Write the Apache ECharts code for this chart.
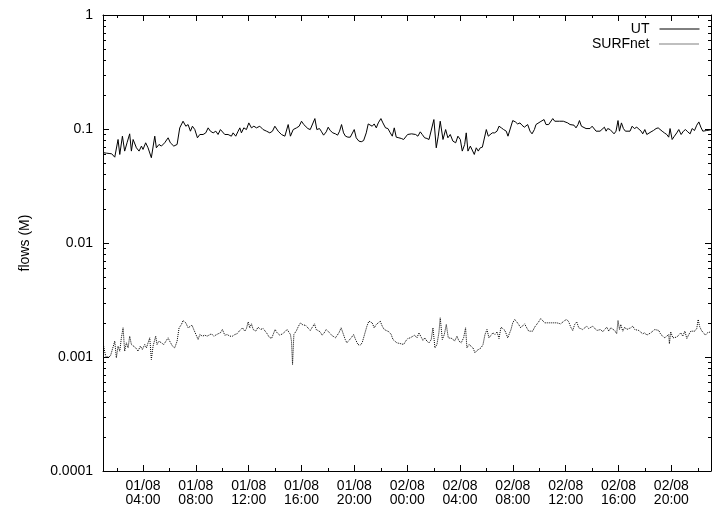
<!DOCTYPE html>
<html><head><meta charset="utf-8">
<script src="https://cdn.jsdelivr.net/npm/echarts@6/dist/echarts.min.js"></script>
<style>html,body{margin:0;padding:0;background:#fff}#c{width:712px;height:507px}</style>
</head><body><div id="c"></div>
<script>
// hours since 01/08 00:00
const utHours = [1.02,1.23,1.43,1.63,1.86,2.11,2.24,2.44,2.61,2.79,2.99,3.12,3.25,3.50,3.70,3.88,4.00,4.20,4.38,4.51,4.63,4.89,5.01,5.21,5.39,5.64,5.90,6.07,6.33,6.58,6.78,7.03,7.24,7.41,7.59,7.74,7.92,8.12,8.30,8.55,8.75,8.93,9.10,9.31,9.51,9.68,9.86,10.01,10.19,10.44,10.69,10.82,11.02,11.20,11.33,11.45,11.63,11.83,12.01,12.21,12.39,12.59,12.84,13.09,13.35,13.60,13.80,13.98,14.23,14.48,14.74,14.86,14.99,15.16,15.37,15.62,15.82,16.00,16.17,
16.30,16.48,16.66,16.81,17.01,17.16,17.36,17.49,17.67,17.87,18.02,18.17,18.37,18.57,18.73,18.88,19.03,19.18,19.33,19.51,19.69,19.84,19.99,20.14,20.34,20.52,20.70,20.90,21.05,21.20,21.35,21.50,21.66,21.81,22.01,22.16,22.36,22.54,22.72,22.87,23.02,23.17,23.37,23.55,23.73,23.88,24.03,24.18,24.33,24.48,24.64,24.81,24.99,25.14,25.32,25.49,25.65,25.80,26.02,26.20,26.35,26.50,26.71,26.91,27.08,27.26,27.46,27.67,27.84,28.02,28.17,28.35,28.47,28.60,28.78,28.93,29.08,29.23,29.38,29.53,29.69,29.84,29.99,30.14,30.29,30.44,30.62,30.80,30.95,31.13,31.30,31.50,
31.63,31.78,31.99,32.19,32.36,32.54,32.69,32.87,33.00,33.12,33.30,33.45,33.63,33.75,33.90,34.06,34.21,34.36,34.51,34.71,34.86,35.02,35.17,35.32,35.52,35.67,35.82,35.97,36.15,36.33,36.48,36.63,36.78,36.93,37.04,37.19,37.34,37.54,37.69,37.84,38.00,38.10,38.30,38.45,38.60,38.75,38.93,39.06,39.18,39.36,39.51,39.66,39.81,39.96,40.07,40.22,40.37,40.52,40.67,40.87,41.03,41.20,41.38,41.53,41.71,41.83,41.99,42.14,42.29,42.46,42.64,42.84,43.00,43.15,43.30,43.47,43.65,43.80,43.90,44.06,44.23,44.41,44.56,44.74,44.91,45.07,45.24,45.42,45.57,45.75,45.92,46.08,46.23,46.38,46.53,46.68,46.83,46.99];
const utFlows = [0.0619,0.0614,0.0610,0.0606,0.0566,0.0809,0.0598,0.0865,0.0640,0.0757,0.0907,0.0640,0.0809,0.0684,0.0640,0.0708,0.0662,0.0757,0.0684,0.0708,0.0560,0.0865,0.0684,0.0732,0.0708,0.0757,0.0837,0.0757,0.0708,0.0732,0.1023,0.117,0.1058,0.1094,0.0957,0.1058,0.0989,0.0837,0.0895,0.0895,0.0925,0.1023,0.0957,0.0925,0.0957,0.0895,0.0989,0.1023,0.0895,0.0895,0.0865,0.0925,0.0865,0.0957,0.1023,0.0925,0.1023,0.0989,0.1131,0.1023,0.1058,0.1023,0.1058,0.0989,0.0957,0.0925,0.0957,0.1058,0.0957,0.0895,0.0865,0.0895,0.1094,0.0865,0.0989,0.1023,0.1058,0.117,0.1094,
0.1058,0.1009,0.0989,0.0970,0.1234,0.0989,0.1009,0.0957,0.0883,0.0944,0.1037,0.0970,0.0925,0.0907,0.0883,0.0957,0.1094,0.0925,0.0865,0.0848,0.0848,0.0848,0.0989,0.0837,0.0783,0.0773,0.0791,0.0925,0.1108,0.1094,0.1058,0.1108,0.1023,0.1131,0.1234,0.1131,0.1023,0.1009,0.0925,0.0865,0.1023,0.0848,0.0837,0.0826,0.0809,0.0791,0.0895,0.0865,0.0907,0.0925,0.0895,0.0865,0.0944,0.0895,0.0837,0.0826,0.0809,0.0783,0.121,0.0684,0.0865,0.117,0.0809,0.0989,0.0837,0.0895,0.0783,0.0757,0.0865,0.0809,0.0640,0.0732,0.0925,0.0640,0.0708,0.0732,0.0598,0.0684,0.0640,0.0684,0.0693,0.0708,0.0989,0.0865,0.0895,0.0925,0.0925,0.0957,0.1058,0.1023,0.0989,0.0957,
0.0865,0.0895,0.1186,0.1154,0.1108,0.1131,0.1080,0.1037,0.1058,0.1094,0.0957,0.0907,0.0989,0.1094,0.1058,0.1154,0.1186,0.121,0.1094,0.1094,0.1108,0.1234,0.117,0.1186,0.117,0.1131,0.117,0.1186,0.1131,0.1094,0.1058,0.1080,0.1023,0.1094,0.1186,0.1058,0.1023,0.1009,0.1037,0.1009,0.1058,0.1094,0.0957,0.0989,0.0957,0.0970,0.1037,0.0957,0.1009,0.0989,0.0957,0.0907,0.0957,0.1186,0.0957,0.1131,0.1009,0.0957,0.0944,0.0957,0.1058,0.1009,0.1037,0.1009,0.0957,0.0907,0.0989,0.0895,0.0925,0.0944,0.0970,0.1009,0.1023,0.0989,0.0957,0.0925,0.0895,0.0848,0.1009,0.0809,0.0865,0.0925,0.0989,0.0895,0.0957,0.0989,0.0944,0.0907,0.1009,0.0970,0.1080,0.1154,0.1037,0.0957,0.0944,0.0970,0.1009,0.0983];

const surfHours = [1.02,1.17,1.35,1.53,1.68,1.86,1.98,2.11,2.24,2.36,2.49,2.61,2.74,2.87,2.99,3.12,3.25,3.45,3.62,3.80,3.95,4.13,4.26,4.38,4.51,4.63,4.76,4.96,5.06,5.21,5.39,5.57,5.72,5.90,6.02,6.23,6.40,6.58,6.73,6.91,7.03,7.24,7.41,7.54,7.71,7.84,7.99,8.17,8.30,8.50,8.67,8.85,9.00,9.18,9.36,9.51,9.68,9.86,10.01,10.19,10.37,10.57,10.77,10.95,11.12,11.28,11.38,11.53,11.70,11.83,11.96,12.08,12.21,12.34,12.54,12.71,12.89,13.09,13.25,13.40,13.55,13.73,13.85,14.00,14.15,14.36,14.56,14.74,14.91,15.06,15.16,15.24,15.32,15.42,15.62,15.77,15.92,16.12,
16.30,16.48,16.66,16.81,16.98,17.11,17.24,17.41,17.56,17.72,17.87,17.99,18.12,18.27,18.42,18.57,18.68,18.83,19.00,19.13,19.31,19.43,19.58,19.76,19.94,20.09,20.27,20.44,20.59,20.77,20.95,21.10,21.25,21.35,21.50,21.66,21.81,21.96,22.11,22.26,22.41,22.62,22.79,22.92,23.04,23.22,23.37,23.55,23.73,23.88,24.05,24.23,24.38,24.56,24.74,24.89,25.06,25.19,25.34,25.49,25.65,25.82,25.95,26.10,26.25,26.40,26.50,26.66,26.81,26.96,27.11,27.26,27.41,27.59,27.77,27.92,28.09,28.27,28.42,28.52,28.68,28.83,28.98,29.13,29.28,29.43,29.59,29.74,29.89,30.04,30.19,30.34,30.49,30.65,30.80,30.95,31.10,31.25,31.40,31.55,
31.61,31.73,31.86,31.99,32.14,32.29,32.44,32.59,32.74,32.89,33.05,33.20,33.35,33.50,33.65,33.80,33.95,34.11,34.26,34.41,34.56,34.71,34.86,35.02,35.17,35.32,35.47,35.62,35.77,35.92,36.08,36.23,36.38,36.53,36.68,36.83,36.99,37.14,37.29,37.44,37.59,37.74,37.89,38.05,38.20,38.35,38.50,38.65,38.80,38.95,39.11,39.26,39.41,39.56,39.71,39.86,39.96,40.07,40.17,40.32,40.47,40.62,40.77,40.92,41.08,41.23,41.38,41.53,41.68,41.83,41.99,42.14,42.29,42.44,42.59,42.74,42.89,43.05,43.20,43.35,43.50,43.65,43.80,43.85,43.95,44.11,44.26,44.41,44.56,44.71,44.86,45.02,45.17,45.32,45.47,45.62,45.77,45.92,46.03,46.13,46.28,46.43,46.58,46.73,46.88,46.99];
const surfFlows = [0.001245,0.001017,0.000997,0.001017,0.001052,0.001377,0.000983,0.001245,0.001125,0.001473,0.001803,0.001125,0.001331,0.001203,0.001523,0.001287,0.001331,0.001203,0.001125,0.001245,0.001163,0.001287,0.001203,0.001331,0.001473,0.000951,0.001245,0.001523,0.001287,0.001377,0.001331,0.001287,0.001287,0.001473,0.001377,0.001245,0.001203,0.001377,0.001803,0.001928,0.002090,0.001994,0.001803,0.001828,0.001902,0.001743,0.001803,0.001424,0.001575,0.001523,0.001554,0.001523,0.001575,0.001598,0.001523,0.001575,0.001598,0.001630,0.001743,0.001554,0.001575,0.001523,0.001523,0.001575,0.001598,0.001685,0.001630,0.001803,0.001685,0.001778,0.002034,0.001803,0.001954,0.001743,0.001685,0.001828,0.001743,0.001778,0.001685,0.001598,0.001493,0.001453,0.001575,0.001743,0.001630,0.001554,0.001598,0.001663,0.001743,0.001803,0.001575,0.001377,0.000859,0.001575,0.001708,0.001864,0.001994,0.001902,
0.001902,0.001803,0.001708,0.001743,0.001954,0.001743,0.001685,0.001663,0.001554,0.001630,0.001743,0.001803,0.001630,0.001554,0.001575,0.001473,0.001424,0.001630,0.001803,0.001630,0.001424,0.001331,0.001358,0.001473,0.001575,0.001424,0.001287,0.001270,0.001331,0.001575,0.001864,0.002062,0.002090,0.001994,0.001803,0.001928,0.001928,0.002062,0.001864,0.001743,0.001708,0.001663,0.001575,0.001424,0.001377,0.001331,0.001331,0.001305,0.001287,0.001377,0.001453,0.001473,0.001493,0.001554,0.001473,0.001630,0.001493,0.001397,0.001473,0.001377,0.001331,0.001424,0.001803,0.001203,0.001287,0.001630,0.002206,0.001424,0.001575,0.001928,0.001473,0.001493,0.001453,0.001377,0.001523,0.001377,0.001331,0.001473,0.001803,0.001203,0.001287,0.001245,0.001203,0.001088,0.001140,0.001163,0.001203,0.001287,0.001575,0.001743,0.001473,0.001523,0.001630,0.001575,0.001663,0.001453,0.001828,0.001778,0.001708,0.001663,
0.001473,0.001523,0.001743,0.001994,0.002133,0.002034,0.001928,0.001803,0.001864,0.001954,0.001803,0.001685,0.001630,0.001685,0.001828,0.001902,0.002034,0.002176,0.002090,0.001994,0.001954,0.001994,0.002062,0.001994,0.002062,0.001994,0.002034,0.001954,0.002034,0.002090,0.002133,0.002034,0.001828,0.001708,0.001928,0.002034,0.001803,0.001864,0.001743,0.001778,0.001864,0.001778,0.001708,0.001864,0.001828,0.001708,0.001685,0.001743,0.001663,0.001743,0.001828,0.001685,0.001803,0.001743,0.001708,0.001598,0.002090,0.001743,0.001928,0.001685,0.001828,0.001743,0.001778,0.001803,0.001864,0.001743,0.001778,0.001708,0.001743,0.001598,0.001630,0.001554,0.001575,0.001630,0.001685,0.001743,0.001803,0.001708,0.001575,0.001554,0.001473,0.001523,0.001575,0.001305,0.001663,0.001473,0.001453,0.001493,0.001554,0.001630,0.001523,0.001685,0.001453,0.001575,0.001685,0.001708,0.001685,0.001778,0.002133,0.001864,0.001708,0.001630,0.001554,0.001630,0.001685,0.001663];

const xMajorTicks = [4, 8, 12, 16, 20, 24, 28, 32, 36, 40, 44];
const xMinorTicks = [2, 6, 10, 14, 18, 22, 26, 30, 34, 38, 42, 46];
const yMinorTicks = [0.0002,0.0003,0.0004,0.0005,0.0006,0.0007,0.0008,0.0009,
  0.002,0.003,0.004,0.005,0.006,0.007,0.008,0.009,
  0.02,0.03,0.04,0.05,0.06,0.07,0.08,0.09,
  0.2,0.3,0.4,0.5,0.6,0.7,0.8,0.9];
const dayLabels = ['01/08', '02/08'];
const xRange = [0.97, 47.0];
const yRange = [0.0001, 1];
const seriesNames = ['UT', 'SURFnet'];

const FONT = '"Liberation Sans", Arial, sans-serif';
const fmtTime = h => {
  const d = Math.floor(h / 24);
  const hh = Math.round(h - d * 24);
  return dayLabels[d] + '\n' + String(hh).padStart(2, '0') + ':00';
};
const fmtFlow = v => {
  const e = Math.round(Math.log10(v));
  return e >= 0 ? '1' : v.toFixed(-e);
};
const pair = (hs, vs) => hs.map((h, i) => [h, vs[i]]);
const crisp = v => Math.round(v) + 0.5;

const chart = echarts.init(document.getElementById('c'), null, {renderer: 'canvas'});
const axisLine = {show: true, onZero: false, lineStyle: {color: '#000', width: 1}};
const option = {
  animation: false,
  backgroundColor: '#fff',
  textStyle: {fontFamily: FONT},
  grid: {left: 103, top: 15, right: 1, bottom: 35, containLabel: false},
  legend: {
    data: seriesNames, orient: 'vertical', right: 12, top: 22, align: 'right',
    itemWidth: 40, itemHeight: 14, itemGap: 1, padding: 0, selectedMode: false,
    itemStyle: {color: 'rgba(0,0,0,0)', borderColor: 'rgba(0,0,0,0)', borderWidth: 0, opacity: 0},
    lineStyle: {color: '#000', width: 1},
    textStyle: {fontSize: 14, color: '#000', fontFamily: FONT, padding: [0, 5, 0, 0]}
  },
  xAxis: [
    {type: 'value', position: 'bottom', min: xRange[0], max: xRange[1],
     axisLine: axisLine,
     axisTick: {show: true, inside: true, length: 6, customValues: xMajorTicks, lineStyle: {color: '#000', width: 1}},
     axisLabel: {show: true, customValues: xMajorTicks, formatter: fmtTime, color: '#000', fontSize: 14, lineHeight: 14, margin: 8, fontFamily: FONT},
     splitLine: {show: false}},
    {type: 'value', position: 'top', min: xRange[0], max: xRange[1],
     axisLine: axisLine,
     axisTick: {show: true, inside: true, length: 6, customValues: xMajorTicks, lineStyle: {color: '#000', width: 1}},
     axisLabel: {show: false}, splitLine: {show: false}}
  ],
  yAxis: [
    {type: 'log', logBase: 10, position: 'left', min: yRange[0], max: yRange[1],
     axisLine: axisLine,
     axisTick: {show: true, inside: true, length: 6, lineStyle: {color: '#000', width: 1}},
     axisLabel: {formatter: fmtFlow, color: '#000', fontSize: 14, margin: 10, fontFamily: FONT},
     splitLine: {show: false},
     name: 'flows (M)', nameLocation: 'middle', nameGap: 71,
     nameTextStyle: {fontSize: 14, color: '#000', fontFamily: FONT}},
    {type: 'log', logBase: 10, position: 'right', min: yRange[0], max: yRange[1],
     axisLine: axisLine,
     axisTick: {show: true, inside: true, length: 6, lineStyle: {color: '#000', width: 1}},
     axisLabel: {show: false}, splitLine: {show: false}}
  ],
  series: [
    {name: seriesNames[0], type: 'line', xAxisIndex: 0, yAxisIndex: 0, data: pair(utHours, utFlows),
     symbol: 'none', showSymbol: false, lineStyle: {color: '#000', width: 1}, itemStyle: {color: '#000'}},
    {name: seriesNames[1], type: 'line', xAxisIndex: 0, yAxisIndex: 0, data: pair(surfHours, surfFlows),
     symbol: 'none', showSymbol: false, lineStyle: {color: '#000', width: 1, type: 'dotted'}, itemStyle: {color: '#000'}},
    {name: 'xMinor', type: 'custom', xAxisIndex: 0, yAxisIndex: 0, silent: true, clip: false,
     data: xMinorTicks.map(h => [h, yRange[1]]), encode: {x: 0, y: 1},
     renderItem: (params, api) => {
       const h = api.value(0);
       const b = api.coord([h, yRange[0]]);
       const t = api.coord([h, yRange[1]]);
       const x = crisp(b[0]);
       return {type: 'group', children: [
         {type: 'line', shape: {x1: x, y1: b[1], x2: x, y2: b[1] - 3}, style: {stroke: '#000', lineWidth: 1}},
         {type: 'line', shape: {x1: x, y1: t[1], x2: x, y2: t[1] + 3}, style: {stroke: '#000', lineWidth: 1}}
       ]};
     }},
    {name: 'yMinor', type: 'custom', xAxisIndex: 0, yAxisIndex: 0, silent: true, clip: false,
     data: yMinorTicks.map(v => [xRange[0], v]), encode: {x: 0, y: 1},
     renderItem: (params, api) => {
       const v = api.value(1);
       const l = api.coord([xRange[0], v]);
       const r = api.coord([xRange[1], v]);
       const y = crisp(l[1]);
       return {type: 'group', children: [
         {type: 'line', shape: {x1: l[0], y1: y, x2: l[0] + 3, y2: y}, style: {stroke: '#000', lineWidth: 1}},
         {type: 'line', shape: {x1: r[0], y1: y, x2: r[0] - 3, y2: y}, style: {stroke: '#000', lineWidth: 1}}
       ]};
     }}
  ]
};
chart.setOption(option);
</script>
</body></html>
